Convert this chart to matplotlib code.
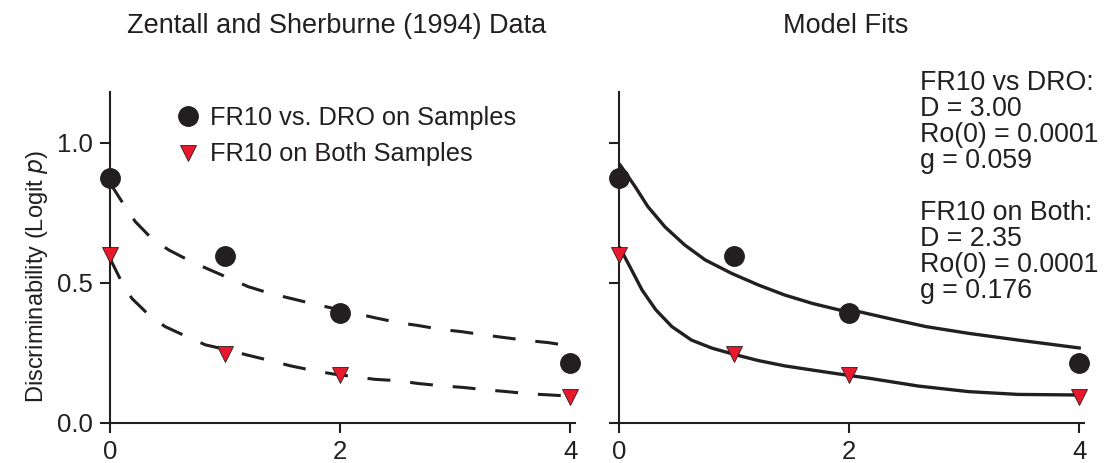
import matplotlib.pyplot as plt

plt.rcParams['font.family'] = ['Liberation Sans', 'DejaVu Sans']

# observed data (Zentall and Sherburne, 1994)
delays = [0, 1, 2, 4]
dro_vals = [0.874, 0.596, 0.392, 0.215]
both_vals = [0.60, 0.246, 0.17, 0.093]

# dashed curves, left panel
left_dro_x = [0.0, 0.12, 0.22, 0.36, 0.51, 0.68, 0.84, 1.03, 1.2, 1.39, 1.57, 1.77,
              2.13, 2.3, 2.51, 2.68, 2.88, 3.06, 3.26, 3.43, 3.64, 3.81, 4.0]
left_dro_y = [0.857, 0.78, 0.719, 0.66, 0.618, 0.582, 0.552, 0.518, 0.487, 0.463, 0.445, 0.425,
              0.392, 0.376, 0.358, 0.348, 0.334, 0.326, 0.314, 0.305, 0.294, 0.287, 0.275]
left_both_x = [0.0, 0.1, 0.19, 0.33, 0.48, 0.67, 0.83, 1.03, 1.19, 1.39, 1.57, 1.77,
               1.94, 2.3, 2.5, 2.68, 2.9, 3.07, 3.28, 3.45, 3.65, 3.83, 4.0]
left_both_y = [0.588, 0.505, 0.445, 0.389, 0.344, 0.308, 0.279, 0.26, 0.243, 0.223, 0.204, 0.187,
               0.175, 0.156, 0.151, 0.141, 0.132, 0.127, 0.118, 0.112, 0.104, 0.10, 0.096]

# model fits, right panel
fit_dro_x = [0.01, 0.14, 0.25, 0.4, 0.57, 0.75, 0.98, 1.21, 1.44, 1.68, 1.91,
             2.08, 2.38, 2.67, 3.04, 3.47, 4.0]
fit_dro_y = [0.921, 0.844, 0.773, 0.70, 0.636, 0.582, 0.534, 0.493, 0.457, 0.427, 0.404,
             0.398, 0.37, 0.344, 0.32, 0.296, 0.268]
fit_both_x = [0.01, 0.11, 0.2, 0.32, 0.46, 0.63, 0.81, 1.02, 1.21, 1.44, 1.68, 1.91,
              2.17, 2.6, 3.04, 3.47, 4.0]
fit_both_y = [0.624, 0.546, 0.475, 0.404, 0.344, 0.296, 0.267, 0.243, 0.223, 0.204, 0.189, 0.175,
              0.16, 0.132, 0.112, 0.102, 0.10]

params_text = ("FR10 vs DRO:\nD = 3.00\nRo(0) = 0.0001\ng = 0.059\n\n"
               "FR10 on Both:\nD = 2.35\nRo(0) = 0.0001\ng = 0.176")

ink = '#231f20'
red = '#e8192c'
fs = 18.5

fig = plt.figure(figsize=(11.04, 4.63), dpi=100)
ax1 = fig.add_axes([0.0996, 0.0864, 0.421, 0.715])
ax2 = fig.add_axes([0.5607, 0.0864, 0.421, 0.715])

for ax in (ax1, ax2):
    ax.set_xlim(0, 4.04)
    ax.set_ylim(0, 1.182)
    for s in ('top', 'right'):
        ax.spines[s].set_visible(False)
    for s in ('left', 'bottom'):
        ax.spines[s].set_linewidth(1.5)
        ax.spines[s].set_color(ink)
    ax.set_xticks([0, 2, 4])
    ax.set_yticks([0, 0.5, 1.0])
    ax.tick_params(direction='out', length=7.2, width=1.5, color=ink,
                   labelsize=fs, labelcolor=ink, pad=5)

ax1.set_yticklabels(['0.0', '0.5', '1.0'])
ax2.set_yticklabels([])

# left panel
ax1.plot(left_dro_x, left_dro_y, color=ink, lw=2.2, dashes=(7.5, 6.5), zorder=2)
ax1.plot(left_both_x, left_both_y, color=ink, lw=2.2, dashes=(7.5, 6.5), zorder=2)
ax1.plot(delays, dro_vals, 'o', ms=14, color=ink, mec=ink, clip_on=False, zorder=3,
         label='FR10 vs. DRO on Samples')
ax1.plot(delays, both_vals, 'v', ms=12, color=red, mec=ink, mew=0.6, clip_on=False, zorder=3,
         label='FR10 on Both Samples')
ax1.legend(loc='upper left', bbox_to_anchor=(0.119, 1.003), frameon=False, fontsize=18.3,
           handlelength=0.6, handletextpad=0.55, labelspacing=0.48, labelcolor=ink,
           borderaxespad=0.2)
ax1.set_ylabel('Discriminability (Logit $p$)', fontsize=17, color=ink)
ax1.yaxis.set_label_coords(-0.13, 0.444)

# right panel
ax2.plot(fit_dro_x, fit_dro_y, color=ink, lw=2.4, zorder=2)
ax2.plot(fit_both_x, fit_both_y, color=ink, lw=2.4, zorder=2)
ax2.plot(delays, dro_vals, 'o', ms=14, color=ink, mec=ink, clip_on=False, zorder=3)
ax2.plot(delays, both_vals, 'v', ms=12, color=red, mec=ink, mew=0.6, clip_on=False, zorder=3)
fig.text(0.833, 0.848, params_text, fontsize=19.3, color=ink, va='top', ha='left',
         linespacing=1.0)

fig.text(0.305, 0.944, 'Zentall and Sherburne (1994) Data', fontsize=19.5, color=ink,
         ha='center', va='center')
fig.text(0.766, 0.944, 'Model Fits', fontsize=19.5, color=ink, ha='center', va='center')

fig.savefig('out.png', dpi=100)
